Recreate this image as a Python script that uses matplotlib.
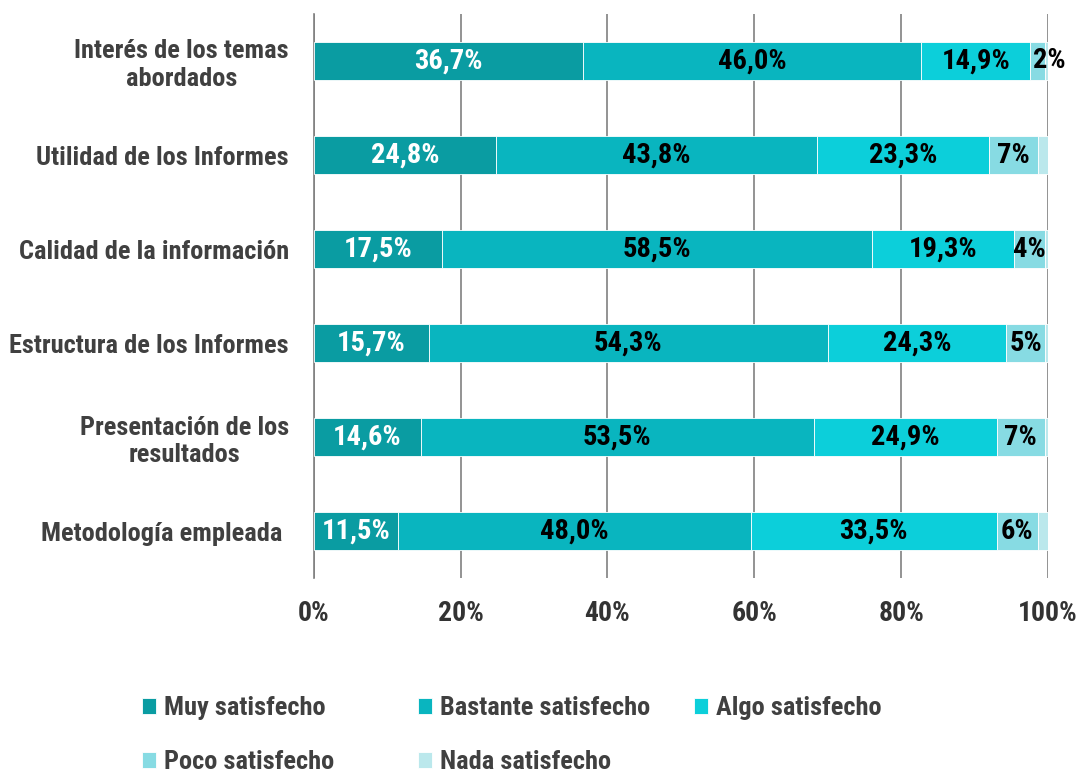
import matplotlib.pyplot as plt
from matplotlib import font_manager
from matplotlib.ticker import FuncFormatter
import numpy as np

# pick a condensed bold face if one is around
names = set(f.name for f in font_manager.fontManager.ttflist)
fam = 'DejaVu Sans'
for cand in ['Liberation Sans Narrow', 'DejaVu Sans Condensed', 'Roboto Condensed', 'Open Sans Condensed']:
    if cand in names:
        fam = cand
        break
plt.rcParams['font.family'] = [fam, 'DejaVu Sans']
plt.rcParams['font.weight'] = 'bold'

categories = ["Interés de los temas\nabordados", "Utilidad de los Informes",
              "Calidad de la información", "Estructura de los Informes",
              "Presentación de los\nresultados", "Metodología empleada "]
series = ["Muy satisfecho", "Bastante satisfecho", "Algo satisfecho",
          "Poco satisfecho", "Nada satisfecho"]
muy = [36.7, 24.8, 17.5, 15.7, 14.6, 11.5]
bastante = [46.0, 43.8, 58.5, 54.3, 53.5, 48.0]
algo = [14.9, 23.3, 19.3, 24.3, 24.9, 33.5]
poco = [2.0, 6.8, 4.3, 5.3, 6.6, 5.6]
nada = [0.4, 1.3, 0.4, 0.4, 0.4, 1.4]

colors = ["#0A9CA2", "#09B5BF", "#0CCFDA", "#87DBE3", "#BBE8EC"]
txt_colors = ["white", "black", "black", "black", None]

fig = plt.figure(figsize=(10.82, 7.76), dpi=100)
ax = fig.add_axes([0.290, 0.255, 0.6786, 0.727])

y = np.arange(len(categories))
left = np.zeros(len(categories))
bars = []
for i, vals in enumerate([muy, bastante, algo, poco, nada]):
    b = ax.barh(y, vals, left=left, height=0.4, color=colors[i],
                edgecolor='white', linewidth=0.6, zorder=3, label=series[i])
    bars.append(b)
    if txt_colors[i] is not None:
        for j, v in enumerate(vals):
            if i == 3:
                s = "%d%%" % round(v)
            else:
                s = ("%.1f%%" % v).replace('.', ',')
            if v < 3:
                ax.text(left[j] + v * 0.15, j, s, ha='left', va='center',
                        fontsize=20.5, color=txt_colors[i], zorder=4)
            else:
                ax.text(left[j] + v / 2, j, s, ha='center', va='center',
                        fontsize=20.5, color=txt_colors[i], zorder=4)
    left = left + np.array(vals)

ax.set_xlim(0, 100)
ax.set_ylim(5.5, -0.5)
ax.set_yticks(y)
ax.set_yticklabels(categories, fontsize=19, color='#404040', ha='right',
                   multialignment='center')
ax.tick_params(axis='y', length=0, pad=18)
ax.set_xticks([0, 20, 40, 60, 80, 100])
ax.xaxis.set_major_formatter(FuncFormatter(lambda v, p: "%d%%" % v))
ax.tick_params(axis='x', length=0, pad=16, labelsize=20, labelcolor='#333333')
ax.grid(axis='x', color='#808080', linewidth=1.2, zorder=0)
for s in ['top', 'right', 'bottom']:
    ax.spines[s].set_visible(False)
ax.spines['left'].set_color('#808080')
ax.spines['left'].set_linewidth(1.2)

# legend: three columns placed by hand
cols = [[0, 3], [1, 4], [2]]
xs = [0.131, 0.386, 0.641]
for c, x0 in zip(cols, xs):
    fig.legend([bars[k] for k in c], [series[k] for k in c], loc='upper left',
               bbox_to_anchor=(x0, 0.103), frameon=False, fontsize=19,
               handlelength=0.55, handleheight=0.55, handletextpad=0.3,
               labelspacing=1.15, labelcolor='#404040', borderaxespad=0,
               borderpad=0)

fig.savefig("out.png", dpi=100)
